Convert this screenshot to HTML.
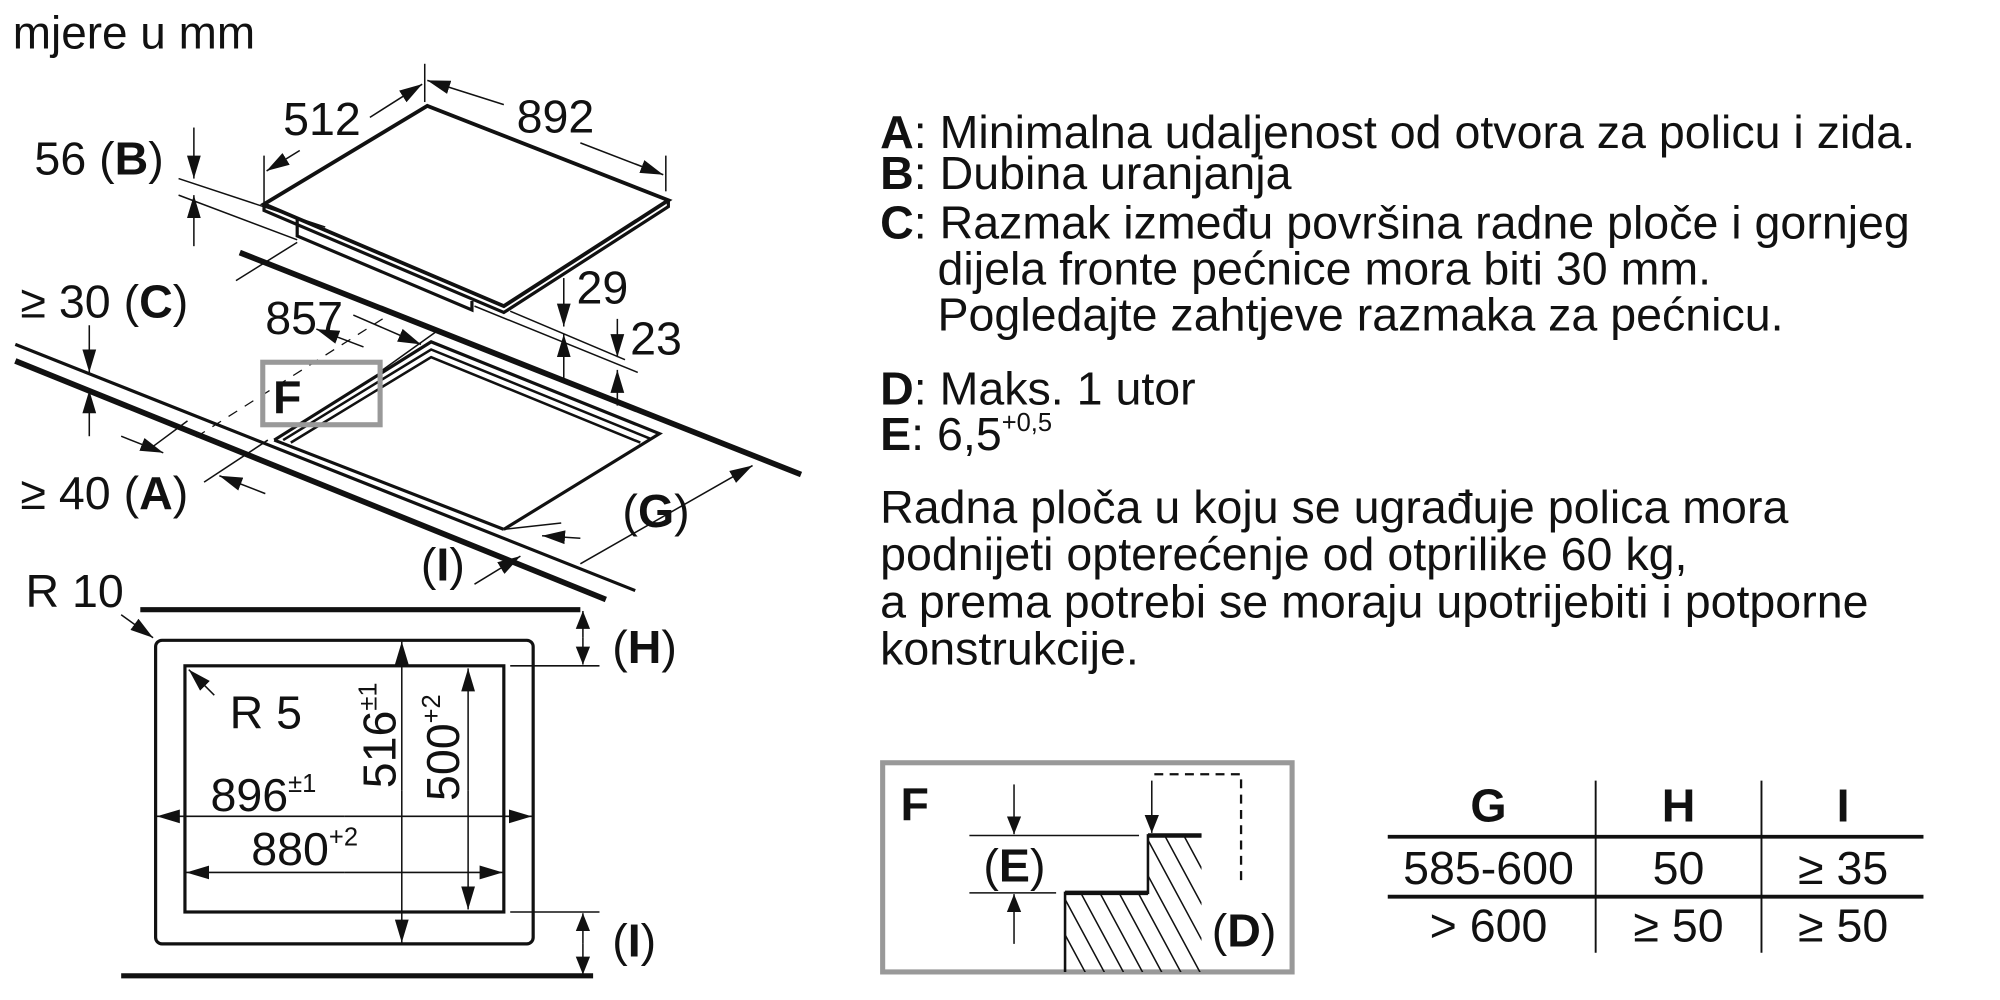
<!DOCTYPE html>
<html><head><meta charset="utf-8"><style>
html,body{margin:0;padding:0;background:#fff;width:2000px;height:1000px;overflow:hidden}
svg{display:block}
text{font-family:"Liberation Sans",Arial,sans-serif;fill:#111}
</style></head><body>
<svg width="2000" height="1000" viewBox="0 0 1568 784" preserveAspectRatio="none">
<defs>
<marker id="a" viewBox="0 0 10 10" refX="10" refY="5" markerWidth="14" markerHeight="14" markerUnits="userSpaceOnUse" orient="auto"><path d="M0,1 L10,5 L0,9 z" fill="#111"/></marker>
<marker id="b" viewBox="0 0 10 10" refX="10" refY="5" markerWidth="18" markerHeight="18" markerUnits="userSpaceOnUse" orient="auto"><path d="M0,2 L10,5 L0,8 z" fill="#111"/></marker>
<clipPath id="hc"><path d="M835,700 L900,700 L900,655 L942,655 L942,762 L835,762 z"/></clipPath>
</defs>
<text x="10" y="38" font-size="36">mjere u mm</text>

<g font-size="36.5">
<text x="690" y="116"><tspan font-weight="bold">A</tspan>: Minimalna udaljenost od otvora za policu i zida.</text>
<text x="690" y="148"><tspan font-weight="bold">B</tspan>: Dubina uranjanja</text>
<text x="690" y="187"><tspan font-weight="bold">C</tspan>: Razmak između površina radne ploče i gornjeg</text>
<text x="735" y="223">dijela fronte pećnice mora biti 30 mm.</text>
<text x="735" y="259">Pogledajte zahtjeve razmaka za pećnicu.</text>
<text x="690" y="317"><tspan font-weight="bold">D</tspan>: Maks. 1 utor</text>
<text x="690" y="353"><tspan font-weight="bold">E</tspan>: 6,5<tspan font-size="20" dy="-15">+0,5</tspan></text>
<text x="690" y="410">Radna ploča u koju se ugrađuje polica mora</text>
<text x="690" y="447">podnijeti opterećenje od otprilike 60 kg,</text>
<text x="690" y="484">a prema potrebi se moraju upotrijebiti i potporne</text>
<text x="690" y="521">konstrukcije.</text>
</g>

<g stroke="#111" fill="none">
<path d="M207,160 L335,83 L524,157 L395,240 Z" stroke-width="3" fill="#fff"/>
<path d="M207,160 L207,165 L395,245 L524,162 L524,157" stroke-width="2.5"/>
<path d="M233,172 L233,185 L370,243 L370,236" stroke-width="2.5"/>
<line x1="188" y1="198" x2="628" y2="372" stroke-width="4.5"/>
<line x1="12" y1="270" x2="498" y2="463" stroke-width="2.5"/>
<line x1="12" y1="283" x2="475" y2="470" stroke-width="4.5"/>
<path d="M215,345 L338,268 L517,340 L395,415" stroke-width="2.5"/>
<path d="M222,345 L338,274 L510,344" stroke-width="2"/>
<path d="M228,347 L338,280 L502,347" stroke-width="2"/>
<path d="M215,345 L395,415" stroke-width="2.5"/>
<line x1="300" y1="250" x2="150" y2="345" stroke-width="1" stroke-dasharray="8,7"/>
<line x1="333" y1="50" x2="333" y2="80" stroke-width="1.2"/>
<line x1="207" y1="122" x2="207" y2="160" stroke-width="1.2"/>
<line x1="522" y1="122" x2="522" y2="150" stroke-width="1.2"/>
<line x1="290" y1="92" x2="331" y2="66" stroke-width="1.2" marker-end="url(#b)"/>
<line x1="235" y1="118" x2="209" y2="134" stroke-width="1.2" marker-end="url(#b)"/>
<line x1="395" y1="82" x2="335" y2="63" stroke-width="1.2" marker-end="url(#b)"/>
<line x1="455" y1="112" x2="520" y2="137" stroke-width="1.2" marker-end="url(#b)"/>
<line x1="140" y1="140" x2="255" y2="178" stroke-width="1.2"/>
<line x1="140" y1="153" x2="233" y2="188" stroke-width="1.2"/>
<line x1="152" y1="100" x2="152" y2="140" stroke-width="1.2" marker-end="url(#b)"/>
<line x1="152" y1="193" x2="152" y2="153" stroke-width="1.2" marker-end="url(#b)"/>
<line x1="233" y1="190" x2="185" y2="220" stroke-width="1.2"/>
<line x1="285" y1="272" x2="248" y2="258" stroke-width="1.2" marker-end="url(#b)"/>
<line x1="342" y1="260" x2="300" y2="290" stroke-width="1.2"/>
<line x1="277" y1="247" x2="330" y2="270" stroke-width="1.2" marker-end="url(#b)"/>
<line x1="372" y1="240" x2="500" y2="292" stroke-width="1.2"/>
<line x1="400" y1="244" x2="490" y2="282" stroke-width="1.2"/>
<line x1="442" y1="218" x2="442" y2="256" stroke-width="1.2" marker-end="url(#b)"/>
<line x1="442" y1="298" x2="442" y2="262" stroke-width="1.2" marker-end="url(#b)"/>
<line x1="484" y1="250" x2="484" y2="280" stroke-width="1.2" marker-end="url(#b)"/>
<line x1="484" y1="318" x2="484" y2="290" stroke-width="1.2" marker-end="url(#b)"/>
<line x1="70" y1="255" x2="70" y2="292" stroke-width="1.2" marker-end="url(#b)"/>
<line x1="70" y1="342" x2="70" y2="306" stroke-width="1.2" marker-end="url(#b)"/>
<line x1="147" y1="330" x2="120" y2="350" stroke-width="1.2"/>
<line x1="95" y1="342" x2="128" y2="355" stroke-width="1.2" marker-end="url(#b)"/>
<line x1="210" y1="345" x2="160" y2="378" stroke-width="1.2"/>
<line x1="208" y1="387" x2="172" y2="373" stroke-width="1.2" marker-end="url(#b)"/>
<line x1="455" y1="442" x2="590" y2="365" stroke-width="1.2" marker-end="url(#b)"/>
<line x1="395" y1="415" x2="440" y2="410" stroke-width="1.2"/>
<line x1="455" y1="422" x2="425" y2="420" stroke-width="1.2" marker-end="url(#b)"/>
<line x1="372" y1="458" x2="408" y2="436" stroke-width="1.2" marker-end="url(#b)"/>
</g>
<rect x="206" y="284" width="92" height="49" fill="none" stroke="#999" stroke-width="4"/>
<g font-size="36.5">
<text x="222" y="106">512</text>
<text x="405" y="104">892</text>
<text x="27" y="137">56 (<tspan font-weight="bold">B</tspan>)</text>
<text x="16" y="249">≥ 30 (<tspan font-weight="bold">C</tspan>)</text>
<text x="208" y="262">857</text>
<text x="452" y="238">29</text>
<text x="494" y="278">23</text>
<text x="214" y="324" font-weight="bold">F</text>
<text x="16" y="399">≥ 40 (<tspan font-weight="bold">A</tspan>)</text>
<text x="488" y="413">(<tspan font-weight="bold">G</tspan>)</text>
<text x="330" y="455">(<tspan font-weight="bold">I</tspan>)</text>
<text x="20" y="476">R 10</text>
</g>

<g stroke="#111" fill="none">
<line x1="110" y1="478" x2="455" y2="478" stroke-width="4"/>
<line x1="95" y1="765" x2="465" y2="765" stroke-width="4"/>
<rect x="122" y="502" width="296" height="238" rx="5" stroke-width="2.5"/>
<rect x="145" y="522" width="250" height="193" stroke-width="2.5"/>
<line x1="400" y1="522" x2="470" y2="522" stroke-width="1.2"/>
<line x1="400" y1="715" x2="470" y2="715" stroke-width="1.2"/>
<line x1="95" y1="482" x2="120" y2="500" stroke-width="1.2" marker-end="url(#b)"/>
<line x1="168" y1="545" x2="148" y2="525" stroke-width="1.2" marker-end="url(#b)"/>
<line x1="315" y1="620" x2="315" y2="503" stroke-width="1.2" marker-end="url(#b)"/>
<line x1="315" y1="620" x2="315" y2="739" stroke-width="1.2" marker-end="url(#b)"/>
<line x1="367" y1="620" x2="367" y2="524" stroke-width="1.2" marker-end="url(#b)"/>
<line x1="367" y1="620" x2="367" y2="713" stroke-width="1.2" marker-end="url(#b)"/>
<line x1="270" y1="640" x2="123" y2="640" stroke-width="1.2" marker-end="url(#b)"/>
<line x1="270" y1="640" x2="417" y2="640" stroke-width="1.2" marker-end="url(#b)"/>
<line x1="270" y1="684" x2="146" y2="684" stroke-width="1.2" marker-end="url(#b)"/>
<line x1="270" y1="684" x2="394" y2="684" stroke-width="1.2" marker-end="url(#b)"/>
<line x1="457" y1="500" x2="457" y2="479" stroke-width="1.2" marker-end="url(#a)"/>
<line x1="457" y1="500" x2="457" y2="521" stroke-width="1.2" marker-end="url(#a)"/>
<line x1="457" y1="740" x2="457" y2="716" stroke-width="1.2" marker-end="url(#a)"/>
<line x1="457" y1="740" x2="457" y2="764" stroke-width="1.2" marker-end="url(#a)"/>
</g>
<g font-size="36.5">
<text x="180" y="571">R 5</text>
<text x="165" y="636">896<tspan font-size="20" dy="-15">±1</tspan></text>
<text x="197" y="678">880<tspan font-size="20" dy="-15">+2</tspan></text>
<text transform="translate(310,618) rotate(-90)">516<tspan font-size="20" dy="-15">±1</tspan></text>
<text transform="translate(360,628) rotate(-90)">500<tspan font-size="20" dy="-15">+2</tspan></text>
<text x="480" y="520">(<tspan font-weight="bold">H</tspan>)</text>
<text x="480" y="750">(<tspan font-weight="bold">I</tspan>)</text>
</g>

<rect x="692" y="598" width="321" height="164" fill="none" stroke="#999" stroke-width="4"/>
<g stroke="#111" fill="none">
<g clip-path="url(#hc)" stroke-width="1.2">
<path d="M785,640 L855,770 M800,640 L870,770 M815,640 L885,770 M830,640 L900,770 M845,640 L915,770 M860,640 L930,770 M875,640 L945,770 M890,640 L960,770 M905,640 L975,770 M920,640 L990,770 M935,640 L1005,770"/>
</g>
<path d="M835,762 L835,700 L900,700 L900,655 L942,655" stroke-width="2"/>
<path d="M835,700 L900,700 M900,655 L942,655" stroke-width="3.5"/>
<path d="M905,607 L973,607 L973,690" stroke-width="1.8" stroke-dasharray="7,5"/>
<line x1="760" y1="655" x2="893" y2="655" stroke-width="1.2"/>
<line x1="760" y1="700" x2="828" y2="700" stroke-width="1.2"/>
<line x1="795" y1="615" x2="795" y2="654" stroke-width="1.2" marker-end="url(#a)"/>
<line x1="795" y1="740" x2="795" y2="701" stroke-width="1.2" marker-end="url(#a)"/>
<line x1="903" y1="612" x2="903" y2="653" stroke-width="1.2" marker-end="url(#a)"/>
</g>
<g font-size="36.5">
<text x="706" y="643" font-weight="bold">F</text>
<text x="771" y="691">(<tspan font-weight="bold">E</tspan>)</text>
<text x="950" y="742">(<tspan font-weight="bold">D</tspan>)</text>
</g>

<g stroke="#111">
<line x1="1251" y1="612" x2="1251" y2="747" stroke-width="1.5"/>
<line x1="1381" y1="612" x2="1381" y2="747" stroke-width="1.5"/>
<line x1="1088" y1="656" x2="1508" y2="656" stroke-width="3"/>
<line x1="1088" y1="703" x2="1508" y2="703" stroke-width="3"/>
</g>
<g font-size="36.5" text-anchor="middle">
<text x="1167" y="644" font-weight="bold">G</text>
<text x="1316" y="644" font-weight="bold">H</text>
<text x="1445" y="644" font-weight="bold">I</text>
<text x="1167" y="693">585-600</text>
<text x="1316" y="693">50</text>
<text x="1445" y="693">≥ 35</text>
<text x="1167" y="738">&gt; 600</text>
<text x="1316" y="738">≥ 50</text>
<text x="1445" y="738">≥ 50</text>
</g>
</svg>
</body></html>
